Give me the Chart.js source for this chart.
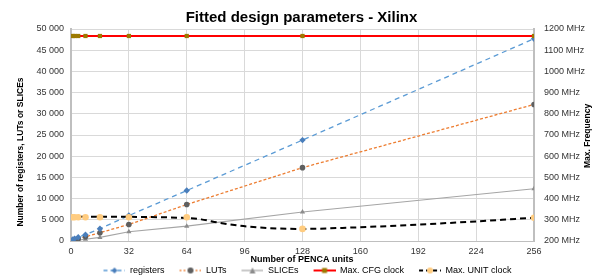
<!DOCTYPE html>
<html><head><meta charset="utf-8">
<script src="https://cdn.jsdelivr.net/npm/chart.js@4.4.1/dist/chart.umd.min.js"></script>
<style>html,body{margin:0;padding:0;background:#fff;}canvas{display:block;}</style>
</head><body>
<canvas id="c" width="603" height="276"></canvas>
<script>
const units = [1, 2, 4, 8, 16, 32, 64, 128, 256];
const registers = [380, 570, 900, 1500, 2900, 6000, 11900, 23800, 47700];
const luts = [150, 260, 520, 1000, 1950, 3900, 8600, 17300, 32200];
const slices = [60, 110, 210, 420, 850, 2200, 3500, 6840, 12340];
const cfgClock = [1167, 1167, 1167, 1167, 1167, 1167, 1167, 1167, 1167];
const unitClock = [312, 312, 312, 312, 312, 312, 312, 257, 310];
const trendX = [0, 32, 64, 72, 82, 99, 127, 154, 182, 221, 256];
const trendY = [315, 314, 308, 302, 286, 267, 257, 263, 273, 291, 310];
const xTicks = [0, 32, 64, 96, 128, 160, 192, 224, 256];
const leftTicks = [0, 5000, 10000, 15000, 20000, 25000, 30000, 35000, 40000, 45000, 50000];
const rightTicks = [200, 300, 400, 500, 600, 700, 800, 900, 1000, 1100, 1200];

const FONT = "'Liberation Sans', Arial, sans-serif";
const pts = (xs, ys) => xs.map((x, i) => ({x: x, y: ys[i]}));
const fmt = v => String(v).replace(/\B(?=(\d{3})+(?!\d))/g, ' ');

const LW = 34; // legend symbol box width (gap + line)
function legendImg(color, width, dash, marker, mColor) {
  const cv = document.createElement('canvas');
  cv.width = LW; cv.height = 10;
  const g = cv.getContext('2d');
  const x0 = LW - 22, xc = LW - 11;
  g.strokeStyle = color; g.lineWidth = width; g.setLineDash(dash);
  g.beginPath(); g.moveTo(x0, 5); g.lineTo(LW, 5); g.stroke();
  g.setLineDash([]);
  g.fillStyle = mColor;
  g.beginPath();
  if (marker === 'diamond') { g.moveTo(xc, 2); g.lineTo(xc + 3, 5); g.lineTo(xc, 8); g.lineTo(xc - 3, 5); g.closePath(); }
  else if (marker === 'circle') { g.arc(xc, 5, 3, 0, Math.PI * 2); }
  else if (marker === 'triangle') { g.moveTo(xc, 2); g.lineTo(xc + 3, 8); g.lineTo(xc - 3, 8); g.closePath(); }
  else if (marker === 'square') { g.rect(xc - 2.5, 2.5, 5, 5); }
  g.fill();
  return cv;
}

const legendDefs = [
  {text: 'registers', img: legendImg('#5B9BD5', 1.3, [4, 3], 'diamond', '#4A7EBB')},
  {text: 'LUTs', img: legendImg('#ED7D31', 1.3, [2, 2], 'circle', '#5F5F5F')},
  {text: 'SLICEs', img: legendImg('#A5A5A5', 1.2, [], 'triangle', '#8C8C8C')},
  {text: 'Max. CFG clock', img: legendImg('#FF0000', 2, [], 'square', '#9C7A00')},
  {text: 'Max. UNIT clock', img: legendImg('#000000', 2, [4, 3], 'circle', '#FFCC80')}
];

const titlesPlugin = {
  id: 'axisTitles',
  afterDraw(chart) {
    const g = chart.ctx;
    g.save();
    g.fillStyle = '#000';
    g.font = "bold 8.5px " + FONT;
    g.textAlign = 'center'; g.textBaseline = 'middle';
    g.save(); g.translate(21, 152); g.rotate(-Math.PI / 2);
    g.fillText('Number of registers, LUTs or SLICEs', 0, 0); g.restore();
    g.save(); g.translate(588, 136); g.rotate(-Math.PI / 2);
    g.fillText('Max. Frequency', 0, 0); g.restore();
    g.font = "bold 9px " + FONT;
    g.fillText('Number of PENCA units', 302, 260);
    g.restore();
  }
};

new Chart(document.getElementById('c'), {
  type: 'scatter',
  data: {
    datasets: [
      {label: 'registers', data: pts(units, registers), yAxisID: 'y', showLine: true,
       borderColor: '#5B9BD5', borderWidth: 1.3, borderDash: [5, 4], pointStyle: 'rectRot',
       pointRadius: 3.2, pointBackgroundColor: '#4A7EBB', pointBorderWidth: 0, order: 3},
      {label: 'LUTs', data: pts(units, luts), yAxisID: 'y', showLine: true,
       borderColor: '#ED7D31', borderWidth: 1.3, borderDash: [3, 2], pointStyle: 'circle',
       pointRadius: 2.8, pointBackgroundColor: '#5F5F5F', pointBorderWidth: 0, order: 3},
      {label: 'SLICEs', data: pts(units, slices), yAxisID: 'y', showLine: true,
       borderColor: '#A5A5A5', borderWidth: 1.1, pointStyle: 'triangle',
       pointRadius: 3, pointBackgroundColor: '#8C8C8C', pointBorderWidth: 0, order: 3},
      {label: 'Max. CFG clock', data: pts(units, cfgClock), yAxisID: 'y1', showLine: true,
       borderColor: '#FF0000', borderWidth: 2, pointStyle: 'rect',
       pointRadius: 3, pointBackgroundColor: '#9C7A00', pointBorderWidth: 0, order: 2},
      {label: 'Max. UNIT clock', data: pts(units, unitClock), yAxisID: 'y1', showLine: false,
       pointStyle: 'circle', pointRadius: 3.3, pointBackgroundColor: '#FFCC80', pointBorderWidth: 0, order: 0},
      {label: 'trend', data: pts(trendX, trendY), yAxisID: 'y1', showLine: true,
       borderColor: '#000000', borderWidth: 2, borderDash: [6, 4], pointRadius: 0,
       cubicInterpolationMode: 'monotone', order: 1}
    ]
  },
  options: {
    responsive: false, animation: false,
    layout: {padding: {left: 0, right: 0, top: 0, bottom: 0}},
    plugins: {
      tooltip: {enabled: false},
      title: {display: true, text: 'Fitted design parameters - Xilinx', color: '#000',
        font: {family: FONT, size: 15, weight: 'bold'}, padding: {top: 9, bottom: 2}},
      legend: {position: 'bottom', maxHeight: 13, labels: {
        usePointStyle: true, pointStyleWidth: LW, boxHeight: 9, padding: 3,
        font: {family: FONT, size: 9}, color: '#111',
        generateLabels: () => legendDefs.map((d, i) => ({text: d.text, pointStyle: d.img, datasetIndex: i,
          fillStyle: 'transparent', strokeStyle: 'transparent', lineWidth: 0, hidden: false}))
      }}
    },
    scales: {
      x: {type: 'linear', min: 0, max: 256, afterBuildTicks: s => { s.ticks = xTicks.map(v => ({value: v})); },
        grid: {color: '#D9D9D9', drawTicks: false}, border: {color: '#BFBFBF', width: 1},
        ticks: {padding: 5, color: '#333', font: {family: FONT, size: 9}, maxRotation: 0},
        afterFit: s => { s.height = 22; }},
      y: {position: 'left', min: 0, max: 50000,
        afterBuildTicks: s => { s.ticks = leftTicks.map(v => ({value: v})); },
        grid: {color: '#D9D9D9', drawTicks: false}, border: {color: '#BFBFBF', width: 2},
        ticks: {padding: 7, color: '#333', font: {family: FONT, size: 9}, callback: v => fmt(v)},
        afterFit: s => { s.width = 71; }},
      y1: {position: 'right', min: 200, max: 1200,
        afterBuildTicks: s => { s.ticks = rightTicks.map(v => ({value: v})); },
        grid: {drawOnChartArea: false, drawTicks: false}, border: {color: '#BFBFBF', width: 2},
        ticks: {padding: 10, color: '#333', font: {family: FONT, size: 9}, callback: v => v + ' MHz'},
        afterFit: s => { s.width = 69; }}
    }
  },
  plugins: [titlesPlugin]
});
</script>
</body></html>
